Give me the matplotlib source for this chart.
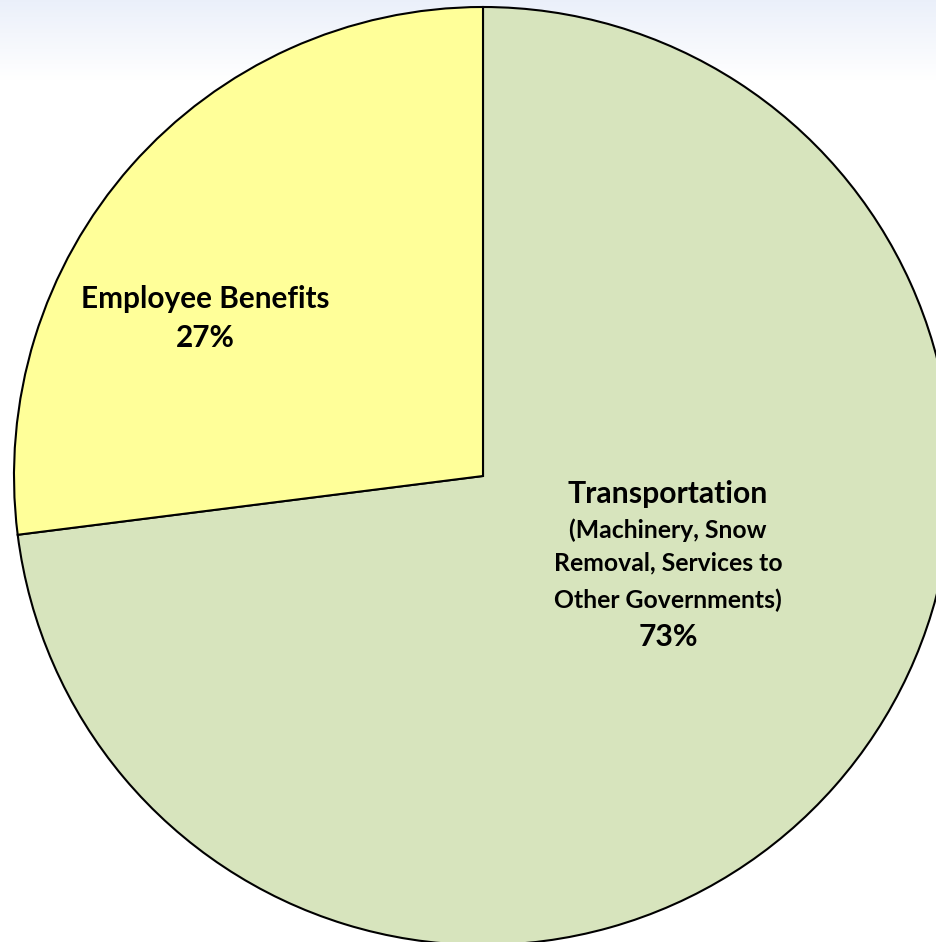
import matplotlib
matplotlib.use("Agg")
import matplotlib.pyplot as plt
import numpy as np

categories = ["Transportation", "Employee Benefits"]
values = [73, 27]
colors = ["#D7E4BD", "#FFFF99"]

W, H = 936, 942
fig = plt.figure(figsize=(W / 100, H / 100), dpi=100)
ax = fig.add_axes([0, 0, 1, 1])
ax.set_xlim(0, W)
ax.set_ylim(0, H)
ax.set_aspect("equal")
ax.axis("off")

# top gradient background
grad = np.linspace(0, 1, 256).reshape(-1, 1)
top = np.array([0.92, 0.94, 0.98])
bot = np.array([1.0, 1.0, 1.0])
img = top[None, None, :] * (1 - grad[:, :, None]) + bot[None, None, :] * grad[:, :, None]
ax.imshow(img, extent=[0, W, H - 80, H], aspect="auto", zorder=0, origin="upper")

cx, cy, r = 483, H - 476, 469
wedges, _ = ax.pie(values, colors=colors, startangle=90, counterclock=False,
                   center=(cx, cy), radius=r, frame=True,
                   wedgeprops=dict(edgecolor="black", linewidth=1.5))
ax.set_xlim(0, W)
ax.set_ylim(0, H)
ax.axis("off")

font = "Lato"
ax.text(205, H - 299, "Employee Benefits", ha="center", va="center",
        fontsize=21.4, fontweight="bold", family=font)
ax.text(205, H - 338, f"{values[1]}%", ha="center", va="center",
        fontsize=21.4, fontweight="bold", family=font)

ax.text(668, H - 494, "Transportation", ha="center", va="center",
        fontsize=21.7, fontweight="bold", family=font)
for y, s in [(530, "(Machinery, Snow"), (563, "Removal, Services to"),
             (600, "Other Governments)")]:
    ax.text(668, H - y, s, ha="center", va="center",
            fontsize=17.8, fontweight="bold", family=font)
ax.text(668, H - 637, f"{values[0]}%", ha="center", va="center",
        fontsize=21.7, fontweight="bold", family=font)

fig.savefig("out.png", dpi=100)
